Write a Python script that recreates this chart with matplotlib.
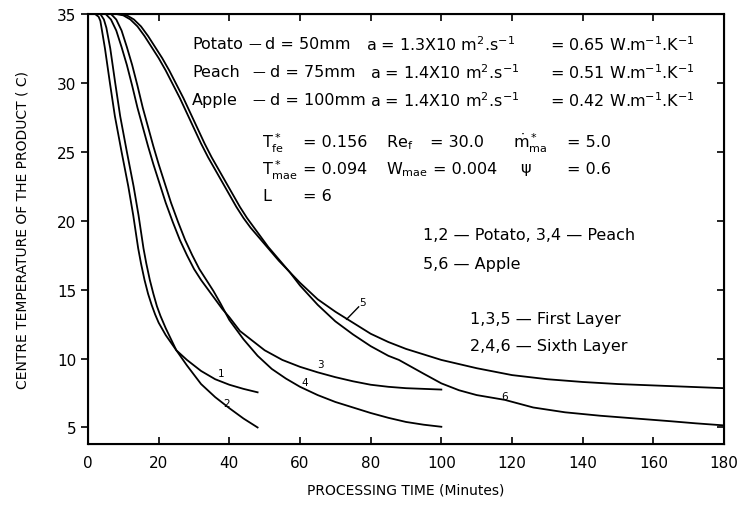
import matplotlib
matplotlib.use("Agg")
import matplotlib.pyplot as plt

plt.rcParams['font.family'] = ['DejaVu Sans']
plt.rcParams['mathtext.fontset'] = 'dejavusans'
plt.rcParams['mathtext.default'] = 'regular'

# centre temperature curves (time in minutes, temperature in C)
# 1,2 potato   3,4 peach   5,6 apple   (odd = first layer, even = sixth layer)
t1 = [0, 2, 3, 3.5, 4.8, 6.2, 7.6, 9.5, 11.4, 12.8, 14.2, 15, 16, 17, 18, 19, 20, 22, 25, 28, 32,
      36, 40, 44, 48]
c1 = [35, 35, 34.8, 34.5, 32.5, 30.0, 27.6, 25.0, 22.5, 20.4, 18.0, 16.9, 15.7, 14.7, 13.9, 13.2,
      12.6, 11.7, 10.6, 9.9, 9.1, 8.5, 8.1, 7.8, 7.55]
t2 = [0, 3.5, 4.5, 5.2, 6.3, 7.7, 9.1, 11, 12.9, 14.3, 15.7, 16.5, 17.5, 18.5, 19.5, 20.5, 22, 25,
      28, 32, 36, 40, 44, 48]
c2 = [35, 35, 34.6, 34.0, 32.5, 30.0, 27.6, 25.0, 22.5, 20.4, 18.0, 16.9, 15.7, 14.7, 13.8, 13.1,
      12.2, 10.6, 9.5, 8.15, 7.2, 6.4, 5.65, 5.0]

t3 = [0, 5, 6.5, 8, 9.5, 11, 12.5, 14, 15.5, 17, 18.5, 20, 22, 24, 26, 28, 30, 32, 34, 36, 38, 40,
      43, 46, 50, 55, 60, 65, 70, 75, 80, 85, 90, 95, 100]
c3 = [35, 35, 34.6, 33.8, 32.6, 31.3, 29.8, 28.2, 26.8, 25.4, 24.1, 22.9, 21.3, 19.9, 18.6, 17.5,
      16.5, 15.7, 15.0, 14.3, 13.6, 13.0, 12.0, 11.4, 10.6, 9.9, 9.4, 9.0, 8.65, 8.35, 8.1, 7.95,
      7.85, 7.8, 7.75]
t4 = [0, 6.5, 8, 9.5, 11, 12.5, 14, 15.5, 17, 18.5, 20, 21.5, 23.5, 25.5, 27.5, 29.5, 31.5, 33.5,
      35.5, 37.5, 40, 44, 48, 52, 56, 60, 65, 70, 75, 80, 85, 90, 95, 100]
c4 = [35, 35, 34.6, 33.8, 32.6, 31.3, 29.8, 28.2, 26.8, 25.4, 24.1, 22.9, 21.3, 19.9, 18.6, 17.5,
      16.5, 15.7, 14.9, 14.0, 12.8, 11.4, 10.2, 9.25, 8.55, 7.95, 7.35, 6.85, 6.45, 6.05, 5.7, 5.4,
      5.2, 5.05]

t5 = [0, 8, 10, 12, 14, 16, 18, 20, 22, 24, 26, 28, 30, 32, 34, 36, 38, 40, 42, 44, 46, 48, 50, 52,
      54, 57, 60, 65, 70, 75, 80, 85, 90, 95, 100, 110, 120, 130, 140, 150, 160, 170, 180]
c5 = [35, 35, 34.9, 34.6, 34.1, 33.4, 32.6, 31.8, 30.9, 29.9, 28.9, 27.8, 26.7, 25.6, 24.6, 23.7,
      22.8, 21.9, 21.0, 20.2, 19.5, 18.9, 18.3, 17.7, 17.1, 16.3, 15.5, 14.3, 13.4, 12.6, 11.8, 11.2,
      10.7, 10.3, 9.9, 9.3, 8.8, 8.5, 8.3, 8.15, 8.05, 7.95, 7.85]
t6 = [0, 9, 11, 13, 15, 17, 19, 21, 23, 25, 27, 29, 31, 33, 35, 37, 39, 41, 43, 45, 47, 49, 51, 54,
      57, 60, 65, 70, 75, 80, 85, 88, 95, 100, 105, 110, 118, 126, 135, 145, 155, 165, 172, 180]
c6 = [35, 35, 34.9, 34.6, 34.1, 33.4, 32.6, 31.8, 30.9, 29.9, 28.9, 27.8, 26.7, 25.6, 24.6, 23.7,
      22.8, 21.9, 21.0, 20.2, 19.5, 18.8, 18.1, 17.2, 16.3, 15.3, 13.9, 12.7, 11.75, 10.9, 10.2, 9.9,
      8.9, 8.2, 7.7, 7.35, 7.0, 6.45, 6.1, 5.85, 5.65, 5.45, 5.3, 5.15]

curves = [(t1, c1), (t2, c2), (t3, c3), (t4, c4), (t5, c5), (t6, c6)]
curve_names = ["1", "2", "3", "4", "5", "6"]
name_pos = [(37.8, 8.95), (39.2, 6.8), (65.7, 9.6), (61.4, 8.3), (77.8, 14.1), (118, 7.3)]

x_ticks = list(range(0, 181, 20))
y_ticks = list(range(5, 36, 5))

fig = plt.figure(figsize=(7.41, 5.06), dpi=100)
ax = fig.add_axes([88 / 741, 1 - 445 / 506, 636 / 741, 430 / 506])

for t, c in curves:
    ax.plot(t, c, color='black', lw=1.3)

for name, (x, y) in zip(curve_names, name_pos):
    ax.text(x, y, name, fontsize=7.5, ha='center', va='center')
# leader line for curve 5
ax.plot([73.2, 76.6], [12.85, 13.75], color='black', lw=1.0)

ax.set_xlim(0, 180)
ax.set_ylim(3.8, 35)
ax.set_xticks(x_ticks)
ax.set_yticks(y_ticks)
ax.tick_params(axis='x', direction='in', top=True, length=5, width=1.2, labelsize=11, pad=8)
ax.tick_params(axis='y', direction='out', length=5, width=1.2, labelsize=11)
for s in ax.spines.values():
    s.set_linewidth(1.5)

# right side ticks point inwards
ax_r = ax.twinx()
ax_r.set_ylim(ax.get_ylim())
ax_r.set_yticks(y_ticks)
ax_r.tick_params(axis='y', direction='in', length=5, width=1.2, labelright=False)

ax.set_xlabel("PROCESSING TIME (Minutes)", fontsize=10, labelpad=9)
ax.set_ylabel("CENTRE TEMPERATURE OF THE PRODUCT ( C)", fontsize=10, labelpad=20)


def px(x, y):
    # figure pixel position -> data coordinates
    return (x - 88) / (636 / 180), 35 - (y - 15) / (430 / 31.2)


fs = 11.5
dash = "\u2014"
rows = [
    (45, "Potato", 248, 265, "d = 50mm", 366, "a = 1.3X10 m$^2$.s$^{-1}$", "= 0.65 W.m$^{-1}$.K$^{-1}$"),
    (73, "Peach", 252, 270, "d = 75mm", 370, "a = 1.4X10 m$^2$.s$^{-1}$", "= 0.51 W.m$^{-1}$.K$^{-1}$"),
    (101, "Apple", 252, 270, "d = 100mm", 370, "a = 1.4X10 m$^2$.s$^{-1}$", "= 0.42 W.m$^{-1}$.K$^{-1}$"),
]
for yy, name, xdash, xd, dtxt, xa, atxt, ltxt in rows:
    ax.text(*px(192, yy), name, fontsize=fs, va='center')
    ax.text(*px(xdash, yy), dash, fontsize=fs * 0.8, va='center')
    ax.text(*px(xd, yy), dtxt, fontsize=fs, va='center')
    ax.text(*px(xa, yy), atxt, fontsize=fs, va='center')
    ax.text(*px(550, yy), ltxt, fontsize=fs, va='center')

params = [
    (143, [(262, "$T^*_{fe}$"), (303, "= 0.156"), (386, "Re$_f$"), (430, "= 30.0"),
           (513, "$\\dot{m}^*_{ma}$"), (567, "= 5.0")]),
    (170, [(262, "$T^*_{mae}$"), (303, "= 0.094"), (386, "W$_{mae}$"), (433, "= 0.004"),
           (520, "$\\psi$"), (567, "= 0.6")]),
    (197, [(262, "L"), (303, "= 6")]),
]
for yy, items in params:
    for xx, s in items:
        ax.text(*px(xx, yy), s, fontsize=fs, va='center')

ax.text(*px(423, 236), "1,2 " + dash + " Potato, 3,4 " + dash + " Peach", fontsize=fs, va='center')
ax.text(*px(423, 265), "5,6 " + dash + " Apple", fontsize=fs, va='center')
ax.text(*px(470, 320), "1,3,5 " + dash + " First Layer", fontsize=fs, va='center')
ax.text(*px(470, 347), "2,4,6 " + dash + " Sixth Layer", fontsize=fs, va='center')

fig.savefig("out.png", dpi=100)
